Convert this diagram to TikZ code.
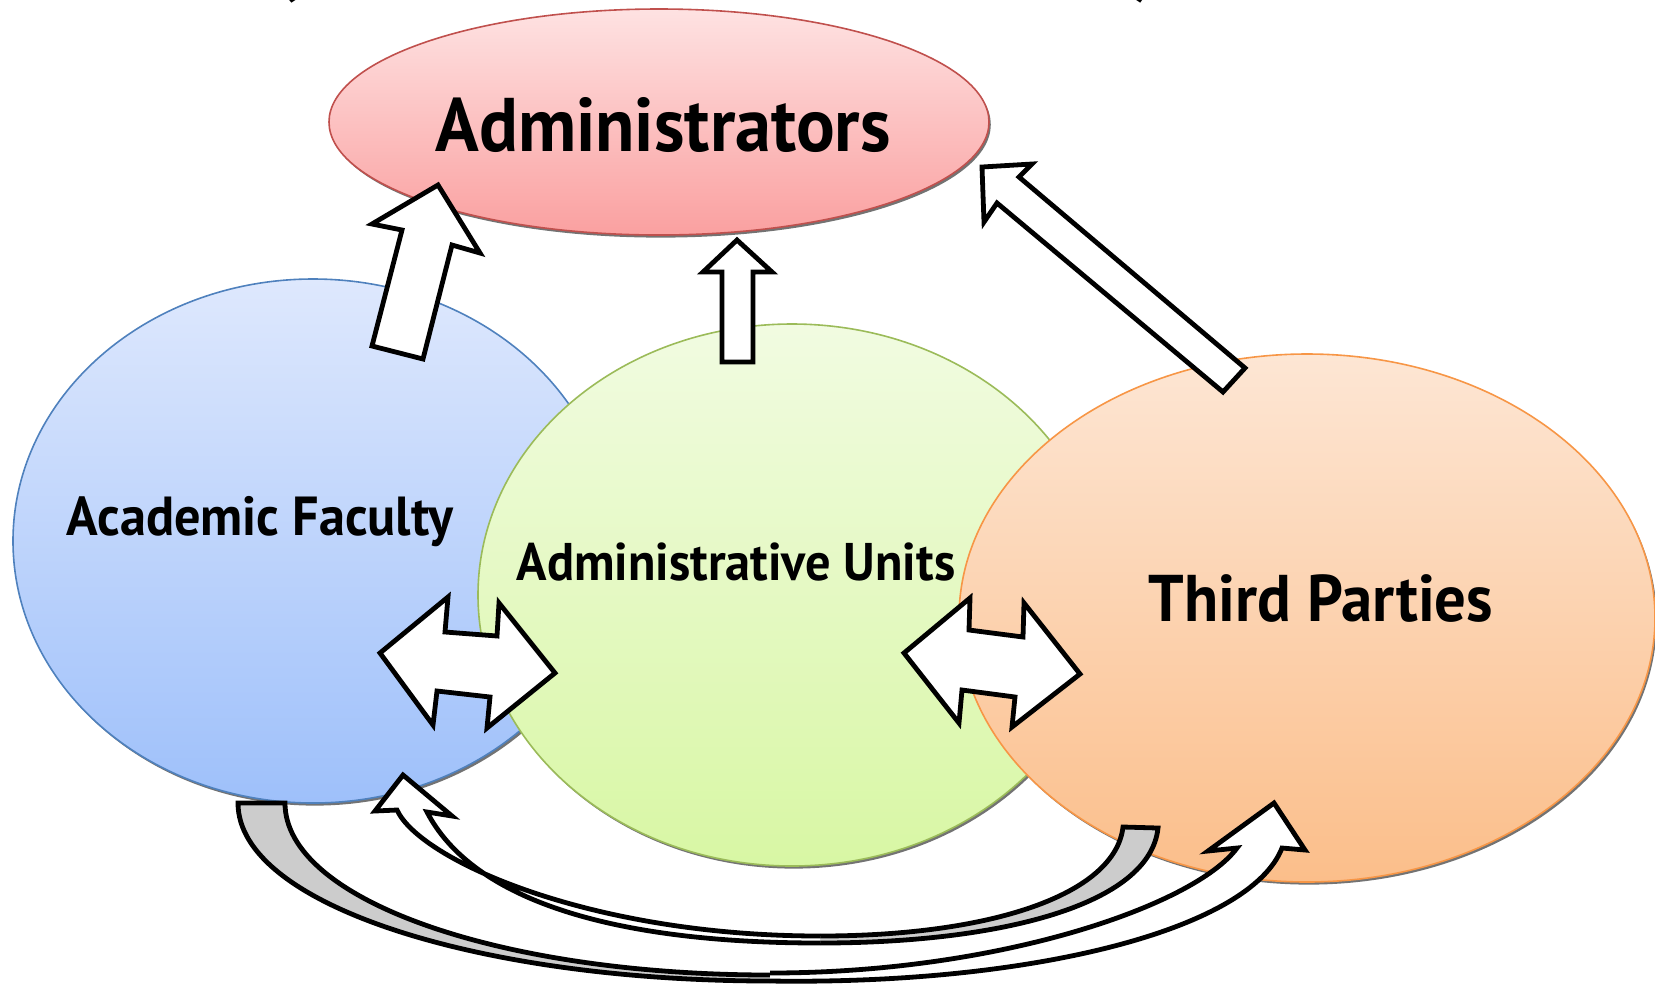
\documentclass[tikz,border=0pt]{standalone}
\usepackage{fontspec}
\setmainfont{PT Sans}[FakeStretch=0.95]
\usetikzlibrary{shapes.geometric,shadows}

\definecolor{redline}{RGB}{192,80,77}
\definecolor{redtop}{RGB}{254,226,226}
\definecolor{redbot}{RGB}{250,160,160}
\definecolor{blueline}{RGB}{79,129,189}
\definecolor{bluetop}{RGB}{222,232,253}
\definecolor{bluebot}{RGB}{158,192,250}
\definecolor{greenline}{RGB}{155,187,89}
\definecolor{greentop}{RGB}{241,251,225}
\definecolor{greenbot}{RGB}{216,247,164}
\definecolor{orangeline}{RGB}{247,150,70}
\definecolor{orangetop}{RGB}{253,230,212}
\definecolor{orangebot}{RGB}{251,190,138}

\tikzset{
  blob/.style={ellipse, inner sep=0pt, line width=0.8pt,
    drop shadow={fill=black!55, opacity=1, shadow xshift=0.9pt, shadow yshift=-1.3pt}},
  blocktip/.style={draw=black, fill=white, line width=2.4pt, line join=miter},
  backband/.style={draw=black, fill=black!20, line width=2.4pt, line join=miter},
  bubbletext/.style={anchor=base, inner sep=0pt, font=\bfseries}
}

\begin{document}
\begin{tikzpicture}[x=0.5pt, y=-0.5pt]
    \useasboundingbox (0,0) rectangle (1655,987);
    \clip (0,0) rectangle (1655,987);

    % Title (cut off at the top)
    \node[bubbletext, font=\bfseries\fontsize{38}{40}\selectfont] (lparen) at (287,-14) {(};
    \node[bubbletext, font=\bfseries\fontsize{38}{40}\selectfont] (rparen) at (1145,-14) {)};

    % Groups
    \node[blob, draw=blueline, top color=bluetop, bottom color=bluebot,
          minimum width=300pt, minimum height=262pt] (faculty) at (313,541) {};
    \node[blob, draw=greenline, top color=greentop, bottom color=greenbot,
          minimum width=314pt, minimum height=271pt] (units) at (792,595) {};
    \node[blob, draw=orangeline, top color=orangetop, bottom color=orangebot,
          minimum width=348pt, minimum height=264pt] (parties) at (1307,618) {};
    \node[blob, draw=redline, top color=redtop, bottom color=redbot,
          minimum width=330pt, minimum height=113pt] (administrators) at (659,122) {};

    % Labels
    \node[bubbletext, font=\bfseries\fontsize{38}{40}\selectfont] (admintext) at (663,151) {Administrators};
    \node[bubbletext, font=\bfseries\fontsize{27.5}{30}\selectfont] (facultytext) at (260,535) {Academic Faculty};
    \node[bubbletext, font=\bfseries\fontsize{26.5}{28}\selectfont] (unitstext) at (736,580) {Administrative Units};
    \node[bubbletext, font=\bfseries\fontsize{33}{35}\selectfont] (partiestext) at (1321,621) {Third Parties};

    % Up arrows to the administrators
    \draw[blocktip] (372,346) -- (402,230) -- (372,224) -- (438,185) -- (480,253) -- (452,245) -- (423,359) -- cycle;
    \draw[blocktip] (722,362) -- (722,272) -- (703,272) -- (737,240) -- (772,272) -- (753,272) -- (753,362) -- cycle;
    \draw[blocktip] (1223,392) -- (997,203) -- (984,222) -- (982,167) -- (1032,164) -- (1019,177) -- (1245,368) -- cycle;

    % Two-way arrows
    \draw[blocktip] (380,653) -- (448,597) -- (445,632) -- (497,636) -- (499,603) -- (555,673)
        -- (487,728) -- (490,697) -- (437,691) -- (433,725) -- cycle;
    \draw[blocktip] (904,653) -- (970,598) -- (969,630) -- (1023,637) -- (1024,603) -- (1080,674)
        -- (1012,727) -- (1015,697) -- (962,690) -- (959,723) -- cycle;

    % Curved arrows below (open at the bottom, where they meet)
    \draw[backband] (770,975) .. controls (500,975) and (285,900) .. (285,803)
        -- (238,803) .. controls (238,905) and (480,981) .. (770,981);
    \draw[backband] (820,936) .. controls (990,936) and (1115,895) .. (1123,827)
        -- (1158,828) .. controls (1150,905) and (1000,943) .. (820,943);
    \draw[blocktip] (820,943) .. controls (600,943) and (470,895) .. (427,812) -- (452,816) -- (403,775)
        -- (375,811) -- (397,810) .. controls (420,860) and (590,936) .. (820,936);
    \draw[blocktip] (770,981) .. controls (1030,985) and (1250,930) .. (1282,848) -- (1305,850) -- (1274,803)
        -- (1208,851) -- (1237,848) .. controls (1195,905) and (1000,973) .. (770,973);
\end{tikzpicture}
\end{document}
